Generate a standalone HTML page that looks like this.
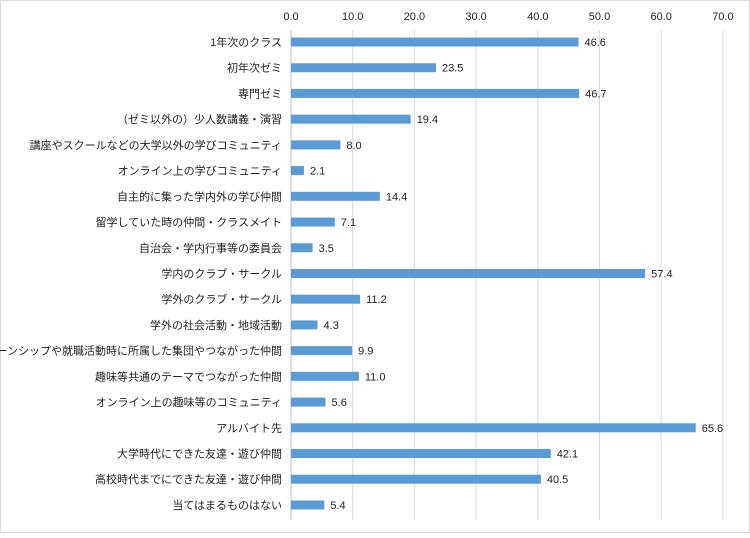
<!DOCTYPE html>
<html><head><meta charset="utf-8"><style>
body{margin:0;background:#fff}
svg text{font-family:"Liberation Sans","Noto Sans CJK JP",sans-serif;font-size:11px;fill:#222}
</style></head><body>
<svg id="c" width="750" height="533">
<rect x="0.5" y="0.5" width="749" height="532" fill="#fff" stroke="#d9d9d9"/>
<g id="g"></g>
</svg>
<script>
const categories=["1年次のクラス","初年次ゼミ","専門ゼミ","（ゼミ以外の）少人数講義・演習","講座やスクールなどの大学以外の学びコミュニティ","オンライン上の学びコミュニティ","自主的に集った学内外の学び仲間","留学していた時の仲間・クラスメイト","自治会・学内行事等の委員会","学内のクラブ・サークル","学外のクラブ・サークル","学外の社会活動・地域活動","インターンシップや就職活動時に所属した集団やつながった仲間","趣味等共通のテーマでつながった仲間","オンライン上の趣味等のコミュニティ","アルバイト先","大学時代にできた友達・遊び仲間","高校時代までにできた友達・遊び仲間","当てはまるものはない"];
const values=[46.6,23.5,46.7,19.4,8.0,2.1,14.4,7.1,3.5,57.4,11.2,4.3,9.9,11.0,5.6,65.6,42.1,40.5,5.4];
const ticks=[0,10,20,30,40,50,60,70];
const NS="http://www.w3.org/2000/svg",g=document.getElementById("g");
const x0=291,ppu=6.17,y0=42,step=25.72,plotTop=30,plotBottom=520;
const X=v=>x0+v*ppu, Y=i=>y0+i*step;
function mk(t,a){const e=document.createElementNS(NS,t);for(const k in a)e.setAttribute(k,a[k]);g.appendChild(e);return e;}
ticks.forEach(t=>{
 const l=mk("line",{x1:X(t),x2:X(t),y1:plotTop,y2:plotBottom,stroke:t===0?"#bfbfbf":"#d9d9d9"});
 
 
 const tx=mk("text",{x:X(t),y:20,"text-anchor":"middle"});tx.textContent=t.toFixed(1);
 
 
});
categories.forEach((c,i)=>{
 const lb=mk("text",{x:282,y:Y(i)+4,"text-anchor":"end"});lb.textContent=c;
 
 
 const r=mk("rect",{x:X(0),y:Y(i)-4.5,width:X(values[i])-X(0),height:9,fill:"#5b9bd5"});
 
 
 const v=mk("text",{x:X(values[i])+6,y:Y(i)+4});v.textContent=values[i].toFixed(1);
 
 
});
</script>
</body></html>
